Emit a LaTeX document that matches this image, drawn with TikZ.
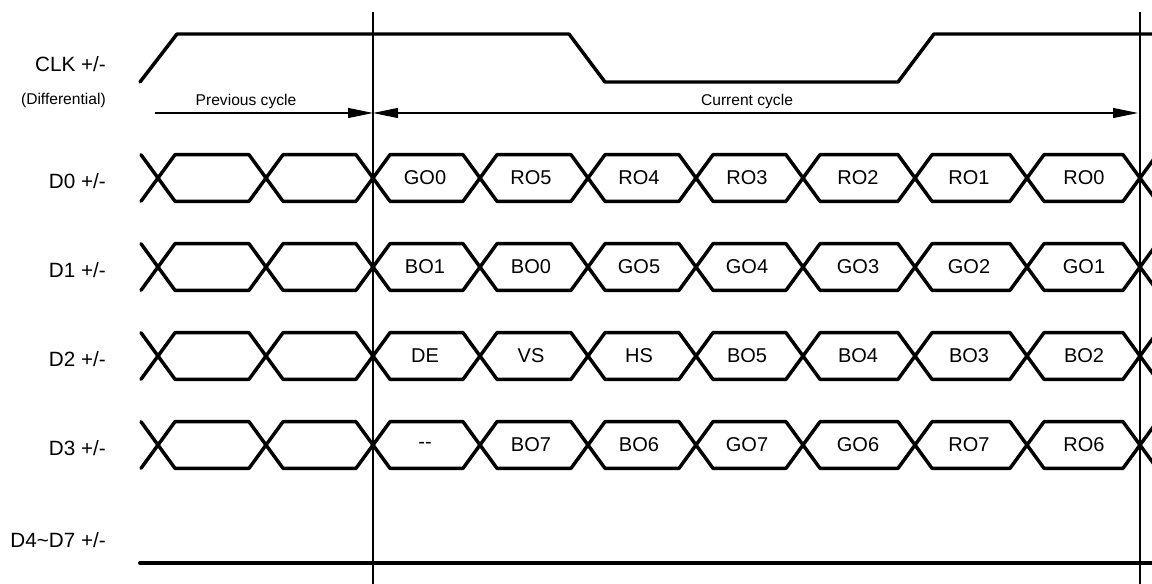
\documentclass[tikz,border=0pt]{standalone}
\usepackage{fontspec}
\setmainfont{Liberation Sans}
\usetikzlibrary{arrows.meta}

\tikzset{
  wavepen/.style={line width=2.6pt, line cap=round, line join=round},
  edgepen/.style={line width=0.8pt},
  cyclearrow/.style={line width=0.8pt, >={Triangle[length=18.75pt,width=7.5pt]}},
  siglabel/.style={font=\fontsize{15.5}{18}\selectfont, anchor=east, inner sep=0pt},
  datalabel/.style={font=\fontsize{15}{18}\selectfont, inner sep=0pt},
  cyclelabel/.style={font=\fontsize{11.7}{14}\selectfont, inner sep=0pt},
}

\begin{document}
\begin{tikzpicture}[x=0.75pt, y=-0.75pt]
  \useasboundingbox (0,0) rectangle (1152,584);
  \draw[edgepen] (373,12) -- (373,584);
  \draw[edgepen] (1140,12) -- (1140,584);
  \draw[wavepen] (140,82) -- (177,34) -- (569,34) -- (605,82) -- (898,82) -- (934,34) -- (1160,34);
  \node[siglabel] (clk) at (106,64) {CLK +/-};
  \node[siglabel, cyclelabel, anchor=east] (diff) at (106,100) {(Differential)};
  \coordinate (prevstart) at (155,113);
  \coordinate (edgeA) at (373,113);
  \coordinate (edgeB) at (1138,113);
  \draw[cyclearrow, ->] (prevstart) -- (edgeA);
  \draw[cyclearrow, <->] (edgeA) -- (edgeB);
  \node[cyclelabel] (prevtext) at (246,101) {Previous cycle};
  \node[cyclelabel] (curtext) at (747,101) {Current cycle};
  \foreach \xc [count=\k] in {425,531,639,747,858,969,1084}
    \coordinate (c\k) at (\xc,0);
  \foreach \y/\labs [count=\r from 0] in {178/{GO0,RO5,RO4,RO3,RO2,RO1,RO0}, 267/{BO1,BO0,GO5,GO4,GO3,GO2,GO1}, 356/{DE,VS,HS,BO5,BO4,BO3,BO2}, 445/{-{}-,BO7,BO6,GO7,GO6,RO7,RO6}} {
    \node[siglabel] (d\r) at (106,\y+3) {D\r\ +/-};
    \draw[wavepen] (141,\y-23.3) -- (158,\y) -- (141,\y+23.3);
    \foreach \xa/\xb in {158/266,266/373,373/480,480/588,588/696,696/803,803/915,915/1027,1027/1140,1140/1250} {
      \draw[wavepen] (\xa,\y) -- (\xa+17,\y-23.3) -- (\xb-17,\y-23.3) -- (\xb,\y);
      \draw[wavepen] (\xa,\y) -- (\xa+17,\y+23.3) -- (\xb-17,\y+23.3) -- (\xb,\y);
    }
    \foreach \lab [count=\k] in \labs
      \node[datalabel] (r\r-\k) at (c\k |- 0,\y) {\lab};
  }
  \node[siglabel] (d47) at (106,540) {D4\textasciitilde D7 +/-};
  \draw[wavepen, line width=3pt] (140,563) -- (1160,563);
\end{tikzpicture}
\end{document}
